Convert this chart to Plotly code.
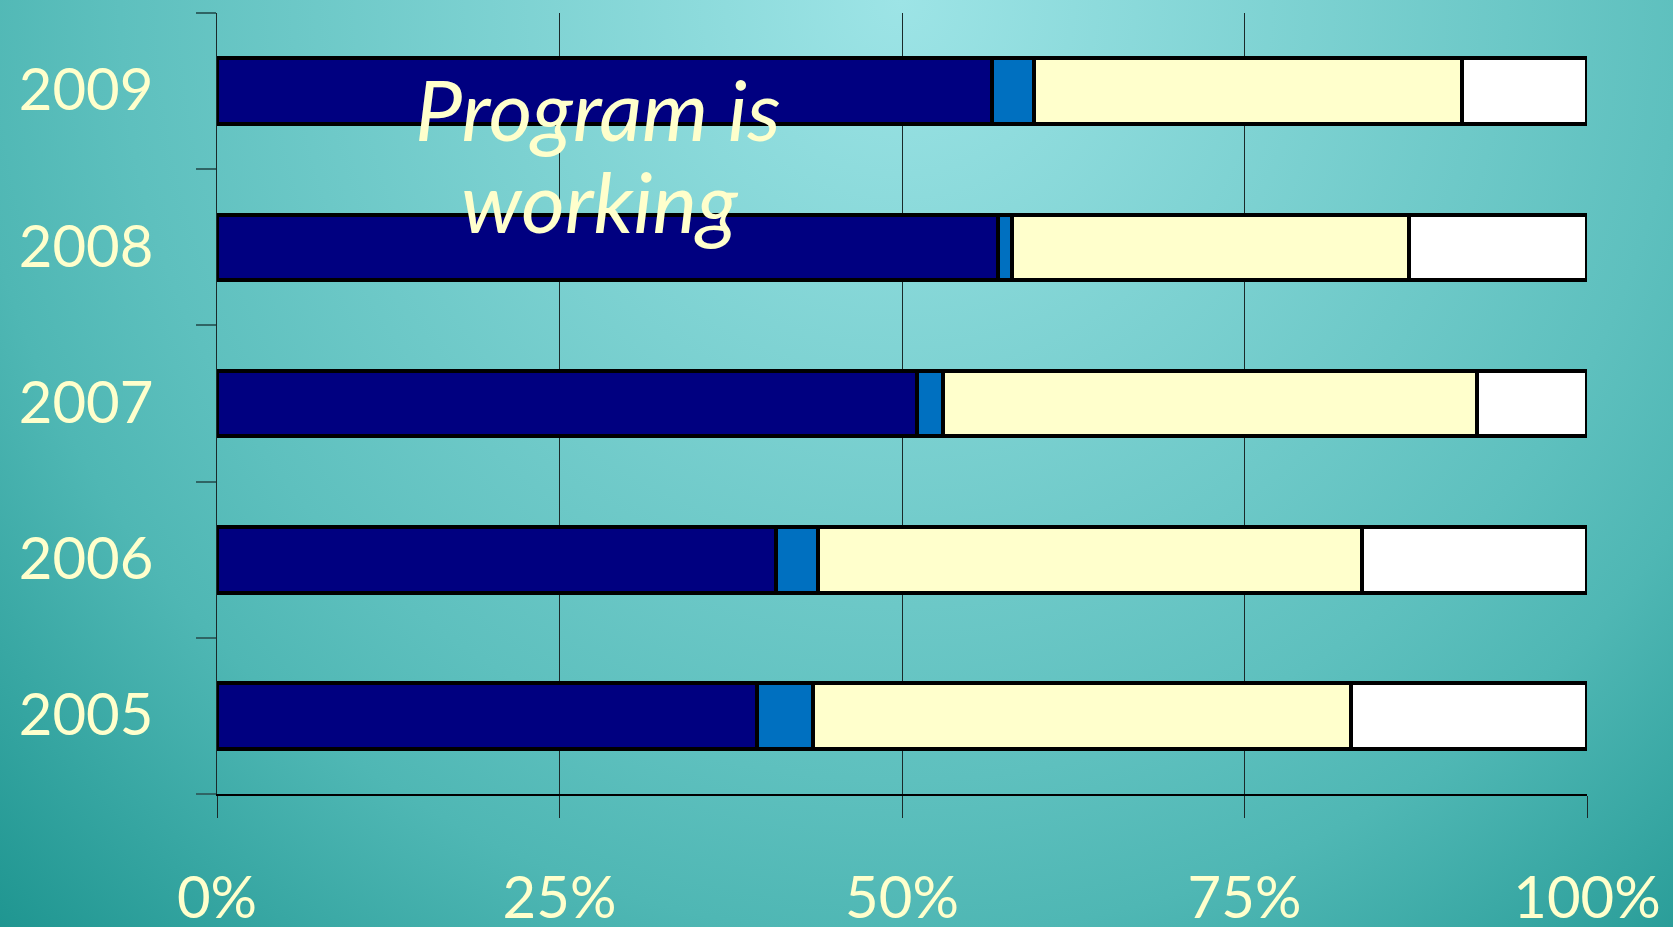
import base64
import plotly.graph_objects as go

# data (share of each year, in %)
years = ["2005", "2006", "2007", "2008", "2009"]
seg_navy = [39.4, 40.8, 51.1, 57.0, 56.6]
seg_blue = [4.1, 3.1, 1.9, 1.0, 3.0]
seg_yellow = [39.3, 39.7, 39.0, 29.0, 31.3]
seg_white = [17.2, 16.4, 8.0, 13.0, 9.1]
x_ticks = [0, 25, 50, 75, 100]
x_labels = ["0%", "25%", "50%", "75%", "100%"]

seg_colors = ["#000080", "#0070C0", "#FFFFCC", "#FFFFFF"]
txt_col = "#FFFFCC"

W, H = 1673, 927
L, R, T, B = 217, 86, 13, 133
pw, ph = W - L - R, H - T - B

# teal backdrop with a soft light spot at the top
svg = f"""<svg xmlns='http://www.w3.org/2000/svg' width='{W}' height='{H}'>
<defs><radialGradient id='g' gradientUnits='userSpaceOnUse' cx='900' cy='0' r='1300'>
<stop offset='0' stop-color='#9DE4E6'/>
<stop offset='0.6' stop-color='#5EC0BE'/>
<stop offset='0.72' stop-color='#4FB7B4'/>
<stop offset='1' stop-color='#1E9590'/>
</radialGradient></defs>
<rect width='{W}' height='{H}' fill='url(#g)'/></svg>"""
bg = "data:image/svg+xml;base64," + base64.b64encode(svg.encode()).decode()

fig = go.Figure()
for vals, col in zip([seg_navy, seg_blue, seg_yellow, seg_white], seg_colors):
    fig.add_trace(go.Bar(y=years, x=vals, orientation="h",
                         marker=dict(color=col, line=dict(color="black", width=4)),
                         showlegend=False))

note_font = dict(family="Lato, 'Open Sans', sans-serif", size=84,
                 color=txt_col, style="italic")
# page coords of the two note lines
for txt, px, py in [("Program is", 598, 109), ("working", 600, 200)]:
    fig.add_annotation(text=txt, xref="paper", yref="paper",
                       x=(px - L) / pw, y=1 - (py - T) / ph,
                       xanchor="center", yanchor="middle",
                       showarrow=False, font=note_font)

fig.add_layout_image(source=bg, xref="paper", yref="paper",
                     x=-L / pw, y=1 + T / ph, sizex=W / pw, sizey=H / ph,
                     sizing="stretch", xanchor="left", yanchor="top", layer="below")

fig.update_layout(
    width=W, height=H, barmode="stack", bargap=0.58,
    margin=dict(l=L, r=R, t=T, b=B, autoexpand=False),
    paper_bgcolor="#4FB7B4", plot_bgcolor="rgba(0,0,0,0)",
    xaxis=dict(range=[0, 100], tickvals=x_ticks, ticktext=x_labels, automargin=False,
               showgrid=True, gridcolor="#1a2a2a", gridwidth=1, zeroline=False,
               showline=True, linecolor="black", linewidth=2,
               ticks="outside", ticklen=22, tickcolor="#1a2a2a", tickwidth=1,
               ticklabelstandoff=30,
               tickfont=dict(family="Lato, sans-serif", size=58, color=txt_col)),
    yaxis=dict(type="category", categoryorder="array", categoryarray=years,
               automargin=False,
               showgrid=False, zeroline=False, showline=True,
               linecolor="#1a2a2a", linewidth=1,
               ticks="outside", tickson="boundaries", ticklen=20,
               tickcolor="#2F6464", tickwidth=2, ticklabelstandoff=51,
               ticklabelshift=-1,
               tickfont=dict(family="Lato, sans-serif", size=58, color=txt_col)),
)

# drop the default page margin so the slide fills the window
fig.write_html("out.html", config={"displayModeBar": False},
               post_script="document.body.style.margin='0';document.body.style.overflow='hidden';")
